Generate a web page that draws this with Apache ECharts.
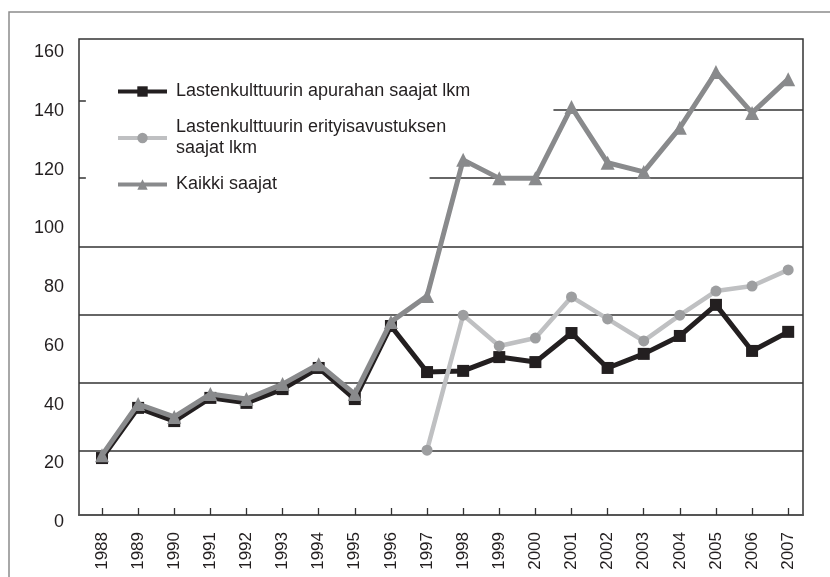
<!DOCTYPE html>
<html>
<head>
<meta charset="utf-8">
<title></title>
<script src="https://cdn.jsdelivr.net/npm/echarts@6/dist/echarts.min.js"></script>
<style>
html,body{margin:0;padding:0;background:#fff;}
#main{width:830px;height:577px;}
</style>
</head>
<body>
<div id="main"></div>
<script>
var years = [1988,1989,1990,1991,1992,1993,1994,1995,1996,1997,1998,1999,2000,2001,2002,2003,2004,2005,2006,2007];
var apuraha = [19.4,36.5,32,39.9,38.2,42.9,50.1,39.5,64.4,48.7,49.1,53.8,52.1,62,50.1,54.9,61,71.6,55.9,62.4];
var erityis = [null,null,null,null,null,null,null,null,null,22.1,68.1,57.6,60.3,74.3,66.8,59.3,68.1,76.3,78,83.5];
var kaikki = [20.4,37.8,33.4,41.2,39.5,44.6,51.4,41.2,65.8,74.6,121,114.7,114.7,139,120,116.9,131.9,150.9,137,148.5];
var yTicks = [0,20,40,60,80,100,120,140,160];
var names = ['Lastenkulttuurin apurahan saajat lkm', 'Lastenkulttuurin erityisavustuksen saajat lkm', 'Kaikki saajat'];

// vaakaviivat kuvassa (akselin yksikoissa)
var guideFull = [21.8, 45, 68.1, 91.5];
var guidePart = [[114.8, 1997.07], [138, 2000.5]];
var guideStub = [141, 114.8];

var xMin = 1987.363, xMax = 2007.41;
var font = "'Liberation Sans', Arial, sans-serif";

function pairs(arr){
	var out = [];
	for (var i = 0; i < years.length; i++) {
		out.push([years[i], arr[i] == null ? null : arr[i]]);
	}
	return out;
}

var guides = [];
guideFull.forEach(function(v){ guides.push([{coord:[xMin, v]}, {coord:[xMax, v]}]); });
guidePart.forEach(function(g){ guides.push([{coord:[g[1], g[0]]}, {coord:[xMax, g[0]]}]); });
guideStub.forEach(function(v){ guides.push([{coord:[xMin, v]}, {coord:[xMin + 0.19, v]}]); });

var chart = echarts.init(document.getElementById('main'));
chart.setOption({
	animation: false,
	backgroundColor: '#fff',
	graphic: [{
		type: 'rect',
		shape: {x: 9, y: 12, width: 900, height: 700},
		style: {fill: 'none', stroke: '#8c8c8c', lineWidth: 1.5},
		z: -1
	}],
	grid: {
		left: 79, top: 39, right: 27, bottom: 62,
		show: true, borderColor: '#333', borderWidth: 1.5
	},
	legend: {
		orient: 'vertical',
		left: 111, top: 76,
		itemWidth: 49, itemHeight: 13, itemGap: 15,
		data: names,
		lineStyle: {width: 4},
		formatter: function(n){ return n.replace('erityisavustuksen ', 'erityisavustuksen\n'); },
		textStyle: {fontSize: 18, fontFamily: font, color: '#231f20', lineHeight: 21, padding: [0,0,0,4]}
	},
	xAxis: {
		type: 'value', min: xMin, max: xMax,
		axisLine: {lineStyle: {color: '#555', width: 2}},
		axisTick: {inside: true, length: 7, customValues: years, lineStyle: {color: '#333', width: 1.3}},
		axisLabel: {
			customValues: years, rotate: 90, margin: 17,
			fontSize: 17, fontFamily: font, color: '#231f20',
			formatter: function(v){ return String(v); }
		},
		splitLine: {show: false}
	},
	yAxis: {
		type: 'value', min: 0, max: 162.18, interval: 20,
		axisLine: {show: false}, axisTick: {show: false}, splitLine: {show: false},
		axisLabel: {
			margin: 15, fontSize: 18, fontFamily: font, color: '#231f20',
			verticalAlign: 'top', lineHeight: 14,
			formatter: function(v){ return yTicks.indexOf(Math.round(v * 100) / 100) >= 0 ? String(v) : ''; }
		}
	},
	series: [
		{
			name: 'guides', type: 'line', data: [], z: 1, silent: true,
			markLine: {
				z: 1, silent: true, symbol: ['none','none'], label: {show: false},
				lineStyle: {color: '#333', width: 1.5, type: 'solid'},
				emphasis: {disabled: true},
				data: guides
			}
		},
		{
			name: names[0], type: 'line', z: 2,
			data: pairs(apuraha),
			symbol: 'rect', symbolSize: 12,
			itemStyle: {color: '#231f20'},
			lineStyle: {color: '#231f20', width: 5}
		},
		{
			name: names[1], type: 'line', z: 3,
			data: pairs(erityis),
			symbol: 'circle', symbolSize: 11,
			itemStyle: {color: '#9d9ea0'},
			lineStyle: {color: '#bfc0c2', width: 4.5}
		},
		{
			name: names[2], type: 'line', z: 4,
			data: pairs(kaikki),
			symbol: 'triangle', symbolSize: 14,
			itemStyle: {color: '#898a8c'},
			lineStyle: {color: '#898a8c', width: 5}
		}
	]
});
</script>
</body>
</html>
